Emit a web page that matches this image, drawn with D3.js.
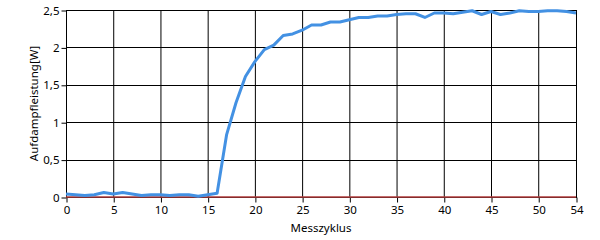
<!DOCTYPE html>
<html><head><meta charset="utf-8">
<script src="https://cdn.jsdelivr.net/npm/d3@7"></script>
<style>body{margin:0;background:#fff;} text{font-family:"Noto Sans",sans-serif;}</style>
</head><body>
<svg id="c" width="600" height="240"></svg>
<script>
const cycles = d3.range(0, 55);
const power = [0.04,0.03,0.02,0.03,0.06,0.04,0.06,0.04,0.02,0.03,0.03,0.02,0.03,0.03,0.01,0.03,0.05,
  0.83,1.26,1.61,1.81,1.97,2.03,2.16,2.18,2.23,2.30,2.30,2.34,2.34,2.37,2.40,2.40,2.42,2.42,2.44,2.45,2.45,
  2.40,2.46,2.46,2.45,2.47,2.49,2.44,2.48,2.44,2.46,2.49,2.48,2.48,2.49,2.49,2.48,2.46];
const baseline = cycles.map(() => 0);
const xTicks = [0,5,10,15,20,25,30,35,40,45,50,54];
const yTicks = [0,0.5,1,1.5,2,2.5];

const svg = d3.select("#c");
const L=66, R=576, T=10, B=197;
const x = d3.scaleLinear().domain([0,54]).range([L,R]);
const y = d3.scaleLinear().domain([0,2.5]).range([B,T]);
const fmt = d => String(d).replace(".", ",");

// grid
svg.append("g").selectAll("line").data(xTicks).join("line")
  .attr("x1",d=>x(d)+0.5).attr("x2",d=>x(d)+0.5).attr("y1",T).attr("y2",B)
  .attr("stroke","#000").attr("stroke-width",1);
svg.append("g").selectAll("line").data(yTicks).join("line")
  .attr("y1",d=>Math.round(y(d))+0.5).attr("y2",d=>Math.round(y(d))+0.5).attr("x1",L).attr("x2",R)
  .attr("stroke","#000").attr("stroke-width",1);
svg.append("rect").attr("x",L+0.5).attr("y",T+0.5).attr("width",R-L).attr("height",B-T)
  .attr("fill","none").attr("stroke","#000");

// axes
const xa = svg.append("g").attr("transform",`translate(0.5,${B+0.5})`)
  .call(d3.axisBottom(x).tickValues(xTicks).tickFormat(fmt).tickSize(5).tickPadding(3));
const ya = svg.append("g").attr("transform",`translate(${L+0.5},0.5)`)
  .call(d3.axisLeft(y).tickValues(yTicks).tickFormat(fmt).tickSize(5).tickPadding(2));
[xa,ya].forEach(a=>{a.select(".domain").remove();
  a.selectAll("text").attr("font-family","Noto Sans").attr("font-size","11.5px").attr("fill","#000");
  a.selectAll("line").attr("stroke","#000");});

// lines
const line = d3.line().x((d,i)=>x(cycles[i])).y(d=>y(d));
svg.append("path").datum(baseline).attr("d",line).attr("fill","none")
  .attr("stroke","#b03b3b").attr("stroke-width",1.5);
svg.append("path").datum(power).attr("d",line).attr("fill","none")
  .attr("stroke","#4391e3").attr("stroke-width",3).attr("stroke-linejoin","round");

// titles
svg.append("text").attr("x",(L+R)/2).attr("y",232).attr("text-anchor","middle")
  .attr("font-size","11.5px").text("Messzyklus");
svg.append("text").attr("transform",`translate(38,${(T+B)/2}) rotate(-90)`).attr("text-anchor","middle")
  .attr("font-size","11.5px").text("Aufdampfleistung[W]");
</script>
</body></html>
